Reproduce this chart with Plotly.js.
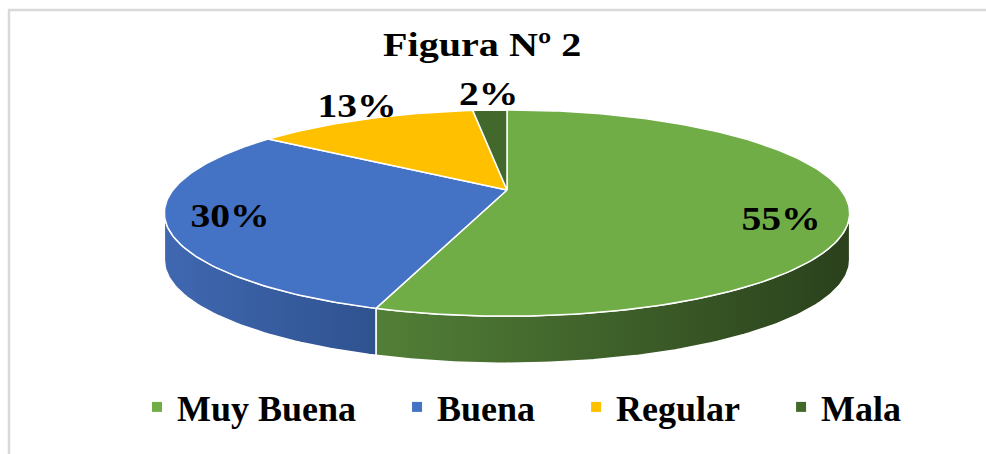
<!DOCTYPE html>
<html>
<head>
<meta charset="utf-8">
<script src="https://cdn.plot.ly/plotly-3.0.1.min.js"></script>
<style>html,body{margin:0;padding:0;background:#fff;}#chart{width:986px;height:454px;}</style>
</head>
<body>
<div id="chart"></div>
<script>
// ---- data ----
const categories = ['Muy Buena', 'Buena', 'Regular', 'Mala'];
const values = [55, 30, 13, 2];
const valueLabels = ['55%', '30%', '13%', '2%'];
const topColors = ['#70AD47', '#4472C4', '#FFC000', '#43682B'];
const sideColors = [['#527F37', '#2A411C'], ['#4068B1', '#2F528F'], ['#C99700', '#A67C00'], ['#35521F', '#2A411C']];
const chartTitle = 'Figura Nº 2';

// ---- 3D pie geometry (perspective projection of a disc) ----
const CX = 507, CY = 190, SX = 334, SY = 98, Q = 0.2233, DZ = 47;
const FONT = 'Liberation Serif, Times New Roman, serif';
function proj(theta, r, dz) {
  const u = r * Math.sin(theta), v = r * Math.cos(theta);
  const den = 1 + Q * v;
  return [CX + SX * u / den, CY - SY * v / den + (dz || 0)];
}
const total = values.reduce((a, b) => a + b, 0);
const starts = [], ends = [];
let acc = 0;
values.forEach(v => { starts.push(acc / total * 2 * Math.PI); acc += v; ends.push(acc / total * 2 * Math.PI); });
const frontA = Math.acos(-Q), frontB = 2 * Math.PI - Math.acos(-Q);

function arc(a, b, r, dz) {
  const n = Math.max(4, Math.ceil((b - a) / (Math.PI / 180)));
  const xs = [], ys = [];
  for (let i = 0; i <= n; i++) { const p = proj(a + (b - a) * i / n, r, dz); xs.push(p[0]); ys.push(p[1]); }
  return [xs, ys];
}

const traces = [];
// side walls
values.forEach((v, i) => {
  const a = Math.max(starts[i], frontA), b = Math.min(ends[i], frontB);
  if (b <= a) return;
  const t = arc(a, b, 1, 0), bt = arc(a, b, 1, DZ);
  const xs = t[0].concat(bt[0].slice().reverse()); xs.push(xs[0]);
  const ys = t[1].concat(bt[1].slice().reverse()); ys.push(ys[0]);
  traces.push({
    type: 'scatter', mode: 'lines', x: xs, y: ys, fill: 'toself',
    fillgradient: { type: 'horizontal', colorscale: [[0, sideColors[i][0]], [1, sideColors[i][1]]] },
    line: { color: '#ffffff', width: 1.5 }, showlegend: false, hoverinfo: 'skip'
  });
});
// top faces
values.forEach((v, i) => {
  const t = arc(starts[i], ends[i], 1, 0);
  const c = proj(0, 0, 0);
  traces.push({
    type: 'scatter', mode: 'lines', x: [c[0]].concat(t[0], [c[0]]), y: [c[1]].concat(t[1], [c[1]]),
    fill: 'toself', fillcolor: topColors[i], line: { color: '#ffffff', width: 1.5 },
    showlegend: false, hoverinfo: 'skip'
  });
});
// legend entries (trailing no-break spaces widen the gap between entries)
const PAD = '\u00a0\u00a0\u00a0\u00a0';
categories.forEach((c, i) => {
  traces.push({ type: 'scatter', mode: 'markers', x: [null], y: [null],
    name: i < categories.length - 1 ? c + PAD : c,
    marker: { symbol: 'square', size: 10, color: topColors[i] } });
});

// value labels
const labelR = [0.82, 0.8, 1.2, 1.25];
const labelDy = [16, 0, -2, 0];
const labelDx = [-4, -8, 16, 2];
const annotations = values.map((v, i) => {
  const mid = (starts[i] + ends[i]) / 2;
  const p = proj(mid, labelR[i], 0);
  return { x: p[0] + labelDx[i], y: p[1] + labelDy[i], xref: 'x', yref: 'y', text: valueLabels[i], showarrow: false,
    font: { family: FONT, size: 33, color: '#000', weight: 'bold' }, xanchor: 'center', yanchor: 'middle' };
});

const layout = {
  width: 986, height: 454,
  margin: { l: 0, r: 0, t: 0, b: 0 },
  paper_bgcolor: '#ffffff', plot_bgcolor: '#ffffff',
  xaxis: { range: [0, 986], visible: false, fixedrange: true },
  yaxis: { range: [454, 0], visible: false, fixedrange: true },
  title: { text: chartTitle, x: 0.489, xanchor: 'center', y: 1 - 44 / 454, yanchor: 'middle',
    font: { family: FONT, size: 34, color: '#000', weight: 'bold' } },
  showlegend: true,
  legend: { orientation: 'h', x: 137 / 986, xanchor: 'left', y: 1 - 407 / 454, yanchor: 'middle',
    font: { family: FONT, size: 36, color: '#000', weight: 'bold' }, bgcolor: 'rgba(0,0,0,0)' },
  annotations: annotations,
  shapes: [
    { type: 'line', xref: 'x', yref: 'y', x0: 8, x1: 986, y0: 10, y1: 10, line: { color: '#D9D9D9', width: 2.5 } },
    { type: 'line', xref: 'x', yref: 'y', x0: 9, x1: 9, y0: 10, y1: 454, line: { color: '#D9D9D9', width: 2.5 } }
  ]
};
Plotly.newPlot('chart', traces, layout, { displayModeBar: false, staticPlot: true }).then(gd => {
  // widen the title and value labels horizontally like the reference typesetting
  gd.querySelectorAll('.annotation-text, .gtitle').forEach(t => {
    const w = t.getComputedTextLength();
    const s = t.classList.contains('gtitle') ? 1.18 : 1.2;
    t.setAttribute('textLength', (w * s).toFixed(1));
    t.setAttribute('lengthAdjust', 'spacingAndGlyphs');
  });
});
</script>
</body>
</html>
